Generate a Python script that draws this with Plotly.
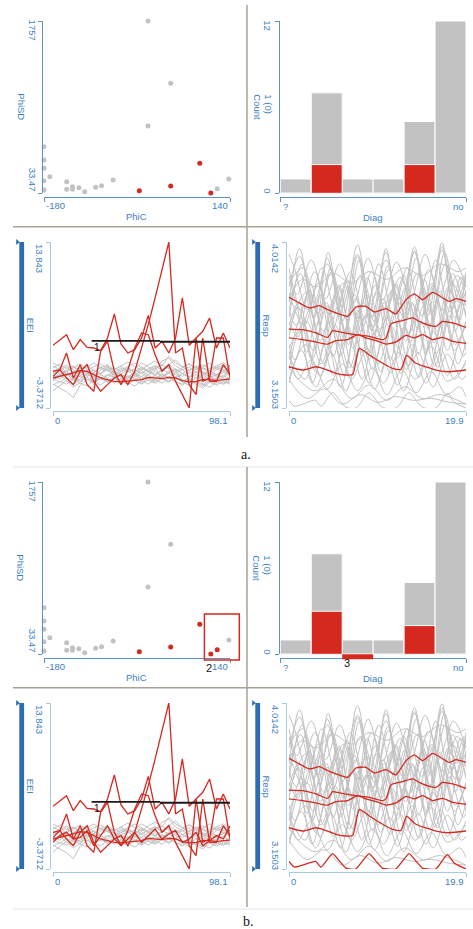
import plotly.graph_objects as go

W, H = 473, 929
B_SHIFT = 461  # vertical offset of the second ("b.") block, px

# ---------------- scatter: PhiC vs PhiSD ----------------
phic = [-180, -180, -180, -180, -180, -170, -141, -141, -131, -131, -120, -110,
        -91, -81, -61, -1, 38, -1, 118, 138, -16, 38, 88, 107]
phisd = [497, 364, 281, 156, 63, 196, 146, 70, 96, 70, 86, 46,
         90, 106, 163, 1757, 1133, 705, 76, 173, 56, 103, 331, 33.47]
selected_a = [0] * 20 + [1, 1, 1, 1]
selected_b = [0] * 18 + [1, 0] + [1, 1, 1, 1]
phic_range = [-180, 140]
phisd_range = [33.47, 1757]
brush_phic = [96, 156]
brush_phisd = [-27, 434]

# ---------------- histogram: Diag ----------------
diag_pos = [0, 1, 2, 3, 4, 5]
diag_end_labels = ["?", "no"]
diag_counts = [1, 7, 1, 1, 5, 12]
diag_sel_a = [0, 2, 0, 0, 2, 0]
diag_sel_b = [0, 3, 0, 0, 2, 0]
diag_removed_b = [0, 0, -0.35, 0, 0, 0]
count_range = [0, 12]
count_mid_label = "1 (0)"

# ---------------- EEI time series ----------------
eei_t = [0, 3.8, 7.5, 11.3, 15.1, 18.9, 22.6, 26.4, 30.2, 34.0, 37.7, 41.5, 45.3, 49.1,
         52.8, 56.6, 60.4, 64.2, 67.9, 71.7, 75.5, 79.3, 83.0, 86.8, 90.6, 94.4, 98.1]
eei_range = [-3.3712, 13.843]
eei_t_range = [0, 98.1]
eei_gray = [
    [0.3, 0.8, 0.1, -0.4, 0.5, 0.2, -0.3, 0.6, 0.9, 0.4, 0.1, -0.2, 0.3, 0.7, 0.4, 0.0, 0.5, 1.2, 0.6, 0.2, -0.1, 0.4, 0.3, -0.2, 0.1, 0.5, 0.2],
    [-0.2, 0.1, -0.6, -0.9, -0.3, 0.2, -0.1, -0.5, 0.0, 0.4, -0.2, -0.6, -0.1, 0.3, -0.3, -0.7, -0.2, 0.5, 0.1, -0.4, -0.8, -0.2, 0.2, -0.5, -0.3, 0.0, -0.4],
    [1.0, 0.6, 0.9, 0.3, 0.7, 1.1, 0.5, 0.2, 0.8, 0.6, 1.0, 0.4, 0.7, 1.3, 0.9, 0.5, 1.5, 1.8, 1.0, 0.6, 0.9, 0.3, 0.8, 0.5, 0.9, 0.6, 0.8],
    [-0.9, -1.3, -1.7, -2.3, -1.0, -0.4, -0.7, -0.2, -0.6, -0.1, -0.5, 0.0, -0.3, -0.8, -0.2, -0.5, 0.1, -0.3, -0.6, -0.9, -0.4, -0.7, -1.1, -0.6, -0.8, -0.4, -0.7],
    [0.6, 0.2, 0.5, 0.9, 0.4, 0.0, 0.3, 0.8, 0.5, 0.1, 0.6, 0.9, 0.2, -0.1, 0.4, 0.8, 1.1, 0.7, 0.3, 0.6, 0.2, 0.7, 0.4, 0.0, 0.6, 0.9, 0.5],
    [0.0, -0.4, 0.2, -0.2, -0.6, -0.1, 0.3, -0.3, -0.7, -0.2, 0.2, 0.5, 0.0, -0.4, 0.1, 0.4, -0.1, 0.3, 0.7, 0.2, -0.2, 0.1, -0.3, 0.2, -0.1, -0.5, -0.2],
    [1.3, 0.9, 0.4, 0.8, 1.2, 0.7, 0.3, 0.9, 0.5, 0.8, 0.4, 0.9, 1.3, 0.8, 0.5, 1.0, 0.6, 1.1, 1.6, 0.9, 0.5, 1.0, 0.7, 0.3, 0.8, 1.1, 0.7],
    [-0.5, 0.0, 0.4, -0.1, -0.5, 0.2, 0.6, 0.1, -0.3, 0.3, -0.1, -0.4, 0.1, 0.5, 0.0, -0.3, 0.2, -0.2, 0.3, -0.1, 0.4, -0.3, 0.0, 0.5, 0.1, -0.2, 0.3],
    [0.4, 0.7, 1.1, 0.6, 0.2, 0.5, 0.9, 1.2, 0.7, 0.3, 0.8, 0.4, 0.6, 0.2, 0.7, 1.0, 0.5, 0.9, 0.4, 0.8, 1.2, 0.6, 0.9, 1.3, 0.7, 0.4, 0.6],
    [-1.0, -0.6, -0.9, -0.4, -0.8, -1.1, -0.5, -0.2, -0.7, -0.3, -0.6, -0.9, -0.4, -0.1, -0.5, -0.8, -0.3, -0.6, -0.2, -0.7, -1.0, -0.6, -0.9, -1.2, -0.7, -0.9, -0.6],
    [0.2, 0.5, 0.0, 0.4, 0.8, 0.3, -0.1, 0.2, 0.6, 0.0, 0.4, 0.7, 0.3, 0.9, 0.5, 0.1, 0.6, 0.3, -0.2, 0.2, 0.6, 0.9, 0.2, 0.5, 0.0, 0.3, 0.1],
    [0.8, 1.2, 0.7, 1.0, 0.5, 0.9, 1.3, 0.8, 1.1, 0.6, 1.0, 1.4, 0.9, 0.6, 1.1, 1.5, 1.0, 2.0, 1.3, 0.9, 1.2, 0.8, 1.1, 0.7, 1.0, 1.3, 0.9],
    [-0.3, -0.7, -0.2, -0.5, 0.0, -0.4, -0.8, -0.3, 0.1, -0.2, -0.6, -0.1, -0.5, -0.9, -0.4, 0.0, -0.3, -0.7, -0.2, -0.6, -0.3, -0.8, -0.4, -0.1, -0.5, -0.8, -0.4],
    [-1.6, -1.0, -0.5, -1.2, -0.7, -0.2, -0.6, -1.0, -0.4, -0.8, -0.3, -0.7, -1.1, -0.5, -0.9, -0.4, -0.8, -0.2, -0.6, -1.0, -0.5, -0.9, -1.3, -0.7, -1.0, -0.6, -0.9],
]
eei_red = [
    [3.13, 3.72, 4.23, 2.68, 3.72, 2.92, 2.85, 2.58, 3.89, 6.38, 3.27, 2.33, 2.68, 3.89, 6.24, 2.85, 3.54, 2.33, 3.89, 8.04, 3.13, 3.89, 4.58, 5.96, 2.85, 4.41, 2.85],
    [0.43, 0.60, -0.26, -0.95, 0.43, 1.12, -0.61, -1.64, -0.95, -0.26, 0.09, -0.95, 0.43, 2.85, 5.27, 8.04, 10.80, 13.843, 2.33, 2.85, -0.95, -1.99, 3.89, -0.61, -0.61, 1.12, 0.09],
    [-0.09, 0.60, 2.33, -0.26, 1.12, -0.95, -1.64, 2.51, 3.54, 0.43, -0.95, 0.60, 2.85, 4.41, 4.23, 2.16, 0.43, 1.12, -0.61, -1.99, -3.3712, 3.89, -0.61, -0.26, 3.89, 3.89, -0.26],
    [-0.26, -0.09, 0.09, 0.26, 0.50, 0.43, 0.09, -0.26, -0.43, -0.61, -0.67, -0.61, -0.54, -0.43, -0.19, -0.26, -0.33, -0.19, -0.26, -0.54, -0.67, -0.61, -0.43, -0.43, -0.54, -0.43, -0.37],
]
# series added to the selection in the second block
eei_extra = [-0.61, 0.09, 0.43, -0.26, -0.09, 0.60, -0.95, 0.09, 1.12, -0.26, -0.95, -0.26, 0.43, -0.61, 0.09, 0.78, -0.26, 0.26, 0.60, -0.61, -0.26, 0.43, -0.95, -0.43, 0.09, -0.26, 1.12]
threshold_t = [[21.4, 59.3], [59.3, 98.3]]
threshold_v = [[3.6, 3.6], [3.5, 3.5]]
threshold_label = ("1", 24.3, 2.9)

# ---------------- Resp time series ----------------
resp_range = [3.1503, 4.0142]
resp_t_range = [0, 19.9]
resp_gray = [
    ([0, 1.2, 2.8, 4.3, 6.0, 7.7, 9.3, 10.9, 12.5, 14.1, 15.6, 17.2, 18.6, 19.9],
     [3.70, 3.98, 3.62, 3.93, 3.60, 4.00, 3.62, 3.96, 3.60, 3.99, 3.63, 4.01, 3.62, 3.82]),
    ([0, 1.0, 2.4, 4.0, 5.6, 7.2, 8.8, 10.4, 12.0, 13.6, 15.2, 16.8, 18.4, 19.9],
     [3.60, 3.52, 3.80, 3.50, 3.79, 3.46, 3.83, 3.52, 3.80, 3.49, 3.82, 3.51, 3.85, 3.62]),
    ([0, 1.6, 3.2, 4.8, 6.4, 8.0, 9.6, 11.2, 12.8, 14.4, 16.0, 17.6, 19.2, 19.9],
     [3.80, 3.88, 3.64, 3.86, 3.62, 3.84, 3.60, 3.87, 3.63, 3.85, 3.64, 3.90, 3.70, 3.76]),
    ([0, 0.5, 2.0, 3.5, 5.0, 6.6, 8.2, 9.8, 11.4, 13.0, 14.6, 16.2, 17.8, 19.4, 19.9],
     [3.70, 3.76, 3.44, 3.74, 3.42, 3.78, 3.44, 3.75, 3.40, 3.77, 3.43, 3.79, 3.45, 3.72, 3.68]),
    ([0, 1.4, 3.0, 4.6, 6.2, 7.8, 9.4, 11.0, 12.6, 14.2, 15.8, 17.4, 19.0, 19.9],
     [3.40, 3.62, 3.34, 3.60, 3.32, 3.66, 3.35, 3.62, 3.33, 3.64, 3.36, 3.62, 3.38, 3.50]),
    ([0, 1.0, 2.5, 4.3, 6.0, 7.7, 9.4, 11.0, 12.7, 14.3, 16.0, 17.7, 19.2, 19.9],
     [3.45, 3.30, 3.40, 3.25, 3.38, 3.24, 3.36, 3.22, 3.35, 3.23, 3.34, 3.22, 3.26, 3.21]),
    ([0, 2.0, 4.0, 6.0, 8.0, 10.0, 12.0, 14.0, 16.0, 18.0, 19.9],
     [3.30, 3.20, 3.25, 3.17, 3.22, 3.18, 3.21, 3.19, 3.20, 3.18, 3.17]),
    ([0, 0.9, 2.5, 4.1, 5.7, 7.3, 8.9, 10.5, 12.1, 13.7, 15.3, 16.9, 18.5, 19.9],
     [3.88, 3.74, 3.92, 3.72, 3.90, 3.70, 3.93, 3.71, 3.91, 3.72, 3.95, 3.74, 3.92, 3.78]),
    ([0, 1.9, 3.5, 5.1, 6.7, 8.3, 9.9, 11.5, 13.1, 14.7, 16.3, 17.9, 19.5, 19.9],
     [3.55, 3.75, 3.50, 3.72, 3.48, 3.70, 3.52, 3.76, 3.50, 3.73, 3.49, 3.78, 3.55, 3.58]),
    ([0, 1.3, 2.9, 4.4, 6.1, 7.7, 9.3, 10.9, 12.5, 14.1, 15.7, 17.2, 18.7, 19.9],
     [3.66, 3.85, 3.55, 3.96, 3.52, 3.94, 3.55, 3.98, 3.50, 3.97, 3.56, 3.99, 3.55, 3.86]),
    ([0, 0.7, 2.3, 3.9, 5.5, 7.1, 8.7, 10.3, 11.9, 13.5, 15.1, 16.7, 18.3, 19.9],
     [3.48, 3.40, 3.66, 3.38, 3.68, 3.36, 3.64, 3.34, 3.66, 3.37, 3.68, 3.36, 3.70, 3.45]),
    ([0, 1.2, 2.6, 4.2, 5.8, 7.4, 9.0, 10.6, 12.2, 13.8, 15.4, 17.0, 18.6, 19.9],
     [3.35, 3.55, 3.28, 3.50, 3.26, 3.52, 3.28, 3.50, 3.27, 3.48, 3.28, 3.46, 3.30, 3.40]),
    ([0, 1.7, 3.3, 4.9, 6.5, 8.1, 9.7, 11.3, 12.9, 14.5, 16.1, 17.7, 19.3, 19.9],
     [3.75, 3.58, 3.80, 3.56, 3.82, 3.55, 3.79, 3.57, 3.84, 3.56, 3.80, 3.58, 3.83, 3.78]),
    ([0, 1.1, 2.7, 4.3, 5.9, 7.5, 9.1, 10.7, 12.3, 13.9, 15.5, 17.1, 18.7, 19.9],
     [3.58, 3.70, 3.45, 3.68, 3.47, 3.72, 3.44, 3.70, 3.46, 3.69, 3.45, 3.74, 3.48, 3.60]),
    ([0, 1.5, 3.0, 5.0, 7.0, 9.0, 11.0, 13.0, 15.0, 17.0, 19.0, 19.9],
     [3.72, 3.82, 3.78, 3.85, 3.80, 3.86, 3.82, 3.88, 3.84, 3.90, 3.86, 3.88]),
    ([0, 1.4, 3.0, 4.7, 6.4, 8.0, 9.6, 11.3, 12.9, 14.5, 16.2, 17.8, 19.4, 19.9],
     [3.28, 3.45, 3.26, 3.44, 3.24, 3.46, 3.25, 3.42, 3.24, 3.44, 3.26, 3.43, 3.30, 3.32]),
    ([0, 0.6, 2.1, 3.7, 5.3, 6.9, 8.5, 10.1, 11.7, 13.3, 14.9, 16.5, 18.1, 19.7, 19.9],
     [3.95, 3.88, 3.66, 3.88, 3.64, 3.86, 3.62, 3.90, 3.64, 3.88, 3.63, 3.92, 3.65, 3.84, 3.82]),
    ([0, 1.8, 3.4, 5.0, 6.6, 8.2, 9.8, 11.4, 13.0, 14.6, 16.2, 17.8, 19.4, 19.9],
     [3.42, 3.30, 3.55, 3.32, 3.58, 3.30, 3.56, 3.33, 3.57, 3.31, 3.55, 3.32, 3.52, 3.48]),
    ([0, 1.5, 3.1, 4.7, 6.3, 7.9, 9.5, 11.1, 12.7, 14.3, 15.9, 17.5, 19.1, 19.9],
     [3.62, 3.90, 3.58, 3.88, 3.55, 3.92, 3.57, 3.89, 3.56, 3.93, 3.58, 3.96, 3.60, 3.75]),
    ([0, 1.0, 2.6, 4.2, 5.8, 7.4, 9.0, 10.6, 12.2, 13.8, 15.4, 17.0, 18.6, 19.9],
     [3.52, 3.68, 3.40, 3.70, 3.42, 3.74, 3.40, 3.72, 3.41, 3.70, 3.44, 3.76, 3.45, 3.60]),
    ([0, 1.5, 3.0, 5.0, 7.0, 9.0, 11.0, 13.0, 15.0, 17.0, 19.9],
     [3.36, 3.28, 3.24, 3.30, 3.20, 3.27, 3.19, 3.26, 3.20, 3.22, 3.17]),
    ([0, 1.3, 2.9, 4.5, 6.1, 7.7, 9.3, 10.9, 12.5, 14.1, 15.7, 17.3, 18.9, 19.9],
     [3.84, 3.66, 3.86, 3.64, 3.80, 3.62, 3.86, 3.66, 3.83, 3.64, 3.87, 3.66, 3.84, 3.75]),
    ([0, 0.8, 2.3, 3.9, 5.5, 7.1, 8.7, 10.3, 11.9, 13.5, 15.1, 16.7, 18.3, 19.9],
     [3.66, 3.58, 3.76, 3.55, 3.78, 3.52, 3.74, 3.56, 3.79, 3.54, 3.77, 3.55, 3.80, 3.64]),
    ([0, 2.0, 3.6, 5.2, 6.8, 8.4, 10.0, 11.6, 13.2, 14.8, 16.4, 18.0, 19.6, 19.9],
     [3.46, 3.60, 3.38, 3.58, 3.36, 3.62, 3.38, 3.57, 3.35, 3.60, 3.37, 3.63, 3.42, 3.44]),
    ([0, 1.2, 2.8, 4.3, 6.0, 7.7, 9.3, 10.9, 12.5, 14.1, 15.7, 17.2, 18.8, 19.9],
     [3.78, 3.94, 3.70, 3.90, 3.68, 3.95, 3.71, 3.92, 3.69, 3.96, 3.72, 3.97, 3.70, 3.85]),
    ([0, 1.8, 3.5, 5.2, 7.0, 8.8, 10.6, 12.4, 14.2, 16.0, 17.8, 19.9],
     [3.30, 3.48, 3.32, 3.50, 3.30, 3.46, 3.28, 3.44, 3.30, 3.47, 3.29, 3.38]),
]
resp_red = [
    ([0, 1.16, 2.29, 3.41, 4.35, 5.28, 6.6, 7.53, 8.66, 9.59, 10.9, 12.03, 13.15, 14.09, 15.03, 16.15, 17.28, 18.03, 18.78, 19.9],
     [3.726, 3.697, 3.671, 3.683, 3.662, 3.645, 3.627, 3.676, 3.679, 3.650, 3.667, 3.640, 3.714, 3.744, 3.714, 3.752, 3.723, 3.705, 3.719, 3.705]),
    ([0, 1.54, 3.04, 4.35, 4.91, 6.22, 7.53, 9.03, 10.53, 10.9, 11.47, 12.78, 13.9, 14.65, 15.78, 16.53, 17.28, 18.4, 19.9],
     [3.561, 3.558, 3.541, 3.518, 3.553, 3.541, 3.532, 3.523, 3.506, 3.515, 3.588, 3.605, 3.619, 3.601, 3.580, 3.575, 3.601, 3.593, 3.570]),
    ([0, 1.54, 3.04, 4.35, 5.28, 6.6, 7.72, 8.66, 9.78, 10.9, 12.03, 13.15, 14.09, 15.03, 16.15, 17.28, 18.4, 19.9],
     [3.515, 3.506, 3.494, 3.483, 3.501, 3.506, 3.532, 3.515, 3.501, 3.483, 3.494, 3.528, 3.515, 3.532, 3.506, 3.518, 3.497, 3.487]),
    ([0, 1.54, 3.04, 3.78, 5.28, 6.41, 7.16, 7.91, 9.03, 10.53, 11.65, 12.59, 13.22, 14.28, 16.53, 18.03, 19.9],
     [3.365, 3.348, 3.365, 3.357, 3.331, 3.322, 3.324, 3.461, 3.426, 3.383, 3.357, 3.352, 3.424, 3.383, 3.348, 3.339, 3.348]),
]
resp_extra = ([0, 0.6, 1.5, 3.0, 3.6, 4.9, 5.7, 6.4, 7.5, 9.0, 9.8, 10.5, 12.0, 13.5, 14.3, 15.0, 16.5, 17.8, 18.6, 19.9],
              [3.19, 3.16, 3.17, 3.19, 3.16, 3.23, 3.19, 3.155, 3.15, 3.23, 3.19, 3.155, 3.15, 3.23, 3.19, 3.155, 3.15, 3.225, 3.18, 3.1503])

# ---------------- styling ----------------
FONT = "Liberation Sans, Arial, sans-serif"
SERIF = "Liberation Serif, Times New Roman, serif"
TXT_BLUE = "#3d7fbf"
AXIS_BLUE = "#5d92c4"
AXIS_LIGHT = "#a8c9e2"
BAR_BLUE = "#2b6db3"
GRAY = "#c2c2c2"
RED = "#d5281f"
SEP = "#a7a294"
SEP_LIGHT = "#e4e4e4"

# panel geometry in px: plot-area x span, y span, y-axis line x, x-axis line y
GEOM = {
    "scatter": ((44, 230), (21, 193), 42.3, 196.7),
    "hist": ((280.3, 466), (21, 193.3), 278.7, 196.7),
    "eei": ((53, 230), (242, 408), 50, 410.7),
    "resp": ((289, 466), (242, 408), 286, 410.7),
}
HIST_BELOW_PX = 6  # room under the histogram baseline for removed counts


def fx(p):
    return p / W


def fy(p):
    return 1 - p / H


def data_to_px(panel, xr, yr, xv, yv, dy):
    (x0, x1), (y0, y1), _, _ = GEOM[panel]
    px = x0 + (xv - xr[0]) / (xr[1] - xr[0]) * (x1 - x0)
    py = y1 + dy - (yv - yr[0]) / (yr[1] - yr[0]) * (y1 - y0)
    return px, py


fig = go.Figure()
layout_axes = {}
annotations = []
shapes = []


def add_axes(n, panel, dy, xr, yr, color):
    (x0, x1), (y0, y1), yline, xline = GEOM[panel]
    xa = dict(domain=[fx(x0), fx(x1)], range=xr, anchor="free",
              position=fy(xline + dy), showline=True, linecolor=color, linewidth=1,
              ticks="outside", ticklen=4, tickcolor=color, tickvals=xr,
              showticklabels=False, showgrid=False, zeroline=False, fixedrange=True)
    ya = dict(domain=[fy(y1 + dy), fy(y0 + dy)], range=yr, anchor="free",
              position=fx(yline), showline=True, linecolor=color, linewidth=1,
              ticks="outside", ticklen=4, tickcolor=color, tickvals=yr,
              showticklabels=False, showgrid=False, zeroline=False, fixedrange=True)
    sfx = "" if n == 1 else str(n)
    layout_axes["xaxis" + sfx] = xa
    layout_axes["yaxis" + sfx] = ya
    return "x" + sfx, "y" + sfx


def label(text, px, py, angle=0, xanchor="center", size=9.5, color=TXT_BLUE, family=FONT):
    annotations.append(dict(text=text, x=fx(px), y=fy(py), xref="paper", yref="paper",
                            xanchor=xanchor, yanchor="middle", textangle=angle,
                            showarrow=False, font=dict(family=family, size=size, color=color)))


def fmt(v):
    return str(int(v)) if float(v).is_integer() else str(v)


def joined(series_x, series_y):
    xs, ys = [], []
    for sx, sy in zip(series_x, series_y):
        xs += list(sx) + [None]
        ys += list(sy) + [None]
    return xs, ys


def slider_bar(xc, y0, y1):
    shapes.append(dict(type="rect", xref="paper", yref="paper", x0=fx(xc - 2.4), x1=fx(xc + 2.4),
                       y0=fy(y1), y1=fy(y0), fillcolor=BAR_BLUE, line=dict(width=0)))
    for yy in (y0, y1):
        path = "M {} {} L {} {} L {} {} Z".format(fx(xc - 5.5), fy(yy - 3), fx(xc - 5.5), fy(yy + 3),
                                                  fx(xc - 2), fy(yy))
        shapes.append(dict(type="path", xref="paper", yref="paper", path=path,
                           fillcolor=BAR_BLUE, line=dict(width=0)))


def build_block(dy, k, selected, diag_sel, diag_removed, extra_selected):
    # --- scatter ---
    xs, ys = add_axes(k + 1, "scatter", dy, phic_range, phisd_range, AXIS_BLUE)
    gx = [p for p, s in zip(phic, selected) if not s]
    gy = [p for p, s in zip(phisd, selected) if not s]
    rx = [p for p, s in zip(phic, selected) if s]
    ry = [p for p, s in zip(phisd, selected) if s]
    fig.add_trace(go.Scatter(x=gx, y=gy, mode="markers", xaxis=xs, yaxis=ys, cliponaxis=False,
                             marker=dict(color=GRAY, size=5)))
    fig.add_trace(go.Scatter(x=rx, y=ry, mode="markers", xaxis=xs, yaxis=ys, cliponaxis=False,
                             marker=dict(color=RED, size=5)))
    label(fmt(phisd_range[1]), 32.7, 30.3 + dy, 90)
    label(fmt(phisd_range[0]), 32.7, 179.5 + dy, 90)
    label("PhiSD", 20.7, 107 + dy, 90)
    label(fmt(phic_range[0]), 44.3, 205 + dy, xanchor="left")
    label(fmt(phic_range[1]), 230, 205 + dy, xanchor="right")
    label("PhiC", 136.7, 216.7 + dy)

    # --- histogram ---
    xh, yh = add_axes(k + 2, "hist", dy, [-0.5, 5.5], count_range, AXIS_BLUE)
    fig.add_trace(go.Bar(x=diag_pos, y=diag_counts, width=1, xaxis=xh, yaxis=yh,
                         marker=dict(color=GRAY, line=dict(color="white", width=1))))
    fig.add_trace(go.Bar(x=diag_pos, y=diag_sel, width=1, xaxis=xh, yaxis=yh,
                         marker=dict(color=RED, line=dict(color="white", width=1))))
    if diag_removed is not None:
        # hidden companion y-axis on the same count scale, reaching below the baseline
        (_, _), (hy0, hy1), _, _ = GEOM["hist"]
        per_count = (hy1 - hy0) / (count_range[1] - count_range[0])
        name = "yaxis" + str(k + 20)
        layout_axes[name] = dict(domain=[fy(hy1 + dy + HIST_BELOW_PX), fy(hy0 + dy)],
                                 range=[count_range[0] - HIST_BELOW_PX / per_count, count_range[1]],
                                 anchor="free", position=0, visible=False, fixedrange=True)
        fig.add_trace(go.Bar(x=diag_pos, y=diag_removed, width=1, xaxis=xh, yaxis="y" + str(k + 20),
                             marker=dict(color=RED, line=dict(width=0))))
    label(fmt(count_range[1]), 267.7, 26 + dy, 90)
    label(fmt(count_range[0]), 267.7, 191 + dy, 90)
    label(count_mid_label, 267.7, 104 + dy, 90)
    label("Count", 256.7, 107 + dy, 90)
    label(diag_end_labels[0], 281, 206.7 + dy, xanchor="left")
    label(diag_end_labels[1], 466, 206.7 + dy, xanchor="right")
    label("Diag", 372.7, 217.3 + dy)

    # --- EEI lines ---
    xe, ye = add_axes(k + 3, "eei", dy, eei_t_range, eei_range, AXIS_LIGHT)
    grays = list(eei_gray) + ([] if extra_selected else [eei_extra])
    reds = list(eei_red) + ([eei_extra] if extra_selected else [])
    lx, ly = joined([eei_t] * len(grays), grays)
    fig.add_trace(go.Scatter(x=lx, y=ly, mode="lines", xaxis=xe, yaxis=ye, cliponaxis=False,
                             line=dict(color=GRAY, width=1)))
    lx, ly = joined([eei_t] * len(reds), reds)
    fig.add_trace(go.Scatter(x=lx, y=ly, mode="lines", xaxis=xe, yaxis=ye, cliponaxis=False,
                             line=dict(color=RED, width=1.3)))
    tx, tv = joined(threshold_t, threshold_v)
    fig.add_trace(go.Scatter(x=tx, y=tv, mode="lines", xaxis=xe, yaxis=ye, cliponaxis=False,
                             line=dict(color="#1a1a1a", width=1.8)))
    annotations.append(dict(text=threshold_label[0], x=threshold_label[1], y=threshold_label[2],
                            xref=xe, yref=ye, showarrow=False,
                            font=dict(family=FONT, size=10, color="#111")))
    slider_bar(21.7, 242 + dy, 408 + dy)
    label(fmt(eei_range[1]), 40, 258 + dy, 90)
    label(fmt(eei_range[0]), 40, 392.7 + dy, 90)
    label("EEI", 30, 324.7 + dy, 90)
    label(fmt(eei_t_range[0]), 53.3, 420 + dy, xanchor="left")
    label(fmt(eei_t_range[1]), 230, 420 + dy, xanchor="right")

    # --- Resp lines ---
    xr_, yr_ = add_axes(k + 4, "resp", dy, resp_t_range, resp_range, AXIS_LIGHT)
    grays = list(resp_gray) + ([] if extra_selected else [resp_extra])
    reds = list(resp_red) + ([resp_extra] if extra_selected else [])
    lx, ly = joined([g[0] for g in grays], [g[1] for g in grays])
    fig.add_trace(go.Scatter(x=lx, y=ly, mode="lines", xaxis=xr_, yaxis=yr_, cliponaxis=False,
                             line=dict(color=GRAY, width=1, shape="spline", smoothing=1.0)))
    lx, ly = joined([r[0] for r in reds], [r[1] for r in reds])
    fig.add_trace(go.Scatter(x=lx, y=ly, mode="lines", xaxis=xr_, yaxis=yr_, cliponaxis=False,
                             line=dict(color=RED, width=1.3, shape="spline", smoothing=0.5)))
    slider_bar(257.7, 242 + dy, 408 + dy)
    label(fmt(resp_range[1]), 276, 258 + dy, 90)
    label(fmt(resp_range[0]), 276, 394 + dy, 90)
    label("Resp", 266, 325.5 + dy, 90)
    label(fmt(resp_t_range[0]), 289.3, 420 + dy, xanchor="left")
    label(fmt(resp_t_range[1]), 466, 420 + dy, xanchor="right")


build_block(0, 0, selected_a, diag_sel_a, None, False)
build_block(B_SHIFT, 4, selected_b, diag_sel_b, diag_removed_b, True)

# brushing rectangle on the second scatter (drawn in page space so it can overhang the axes)
bx0, by0 = data_to_px("scatter", phic_range, phisd_range, brush_phic[0], brush_phisd[1], B_SHIFT)
bx1, by1 = data_to_px("scatter", phic_range, phisd_range, brush_phic[1], brush_phisd[0], B_SHIFT)
shapes.append(dict(type="rect", xref="paper", yref="paper", x0=fx(bx0), x1=fx(bx1),
                   y0=fy(by1), y1=fy(by0), line=dict(color=RED, width=1.5)))
label("2", 209.3, 668.3, size=11, color="#111")
label("3", 346.7, 663.3, size=11, color="#111")


# separators between the panels
def hline(y, x0, x1, color, width):
    shapes.append(dict(type="line", xref="paper", yref="paper", x0=fx(x0), x1=fx(x1),
                       y0=fy(y), y1=fy(y), line=dict(color=color, width=width)))


def vline(x, y0, y1, color, width):
    shapes.append(dict(type="line", xref="paper", yref="paper", x0=fx(x), x1=fx(x),
                       y0=fy(y0), y1=fy(y1), line=dict(color=color, width=width)))


vline(247, 5, 437, SEP, 1.5)
hline(226.7, 13, 473, SEP, 1.5)
hline(467, 13, 473, SEP_LIGHT, 1)
vline(247, 467, 907, SEP, 1.5)
hline(687.7, 13, 473, SEP, 1.5)
hline(909, 13, 473, SEP_LIGHT, 1)

label("a.", 246, 454, size=14, color="#111", family=SERIF)
label("b.", 248, 921, size=14, color="#111", family=SERIF)

fig.update_layout(
    width=W, height=H, margin=dict(l=0, r=0, t=0, b=0),
    paper_bgcolor="white", plot_bgcolor="rgba(0,0,0,0)",
    showlegend=False, barmode="overlay",
    annotations=annotations, shapes=shapes,
    **layout_axes,
)

fig.write_html("out.html", config={"displayModeBar": False})
